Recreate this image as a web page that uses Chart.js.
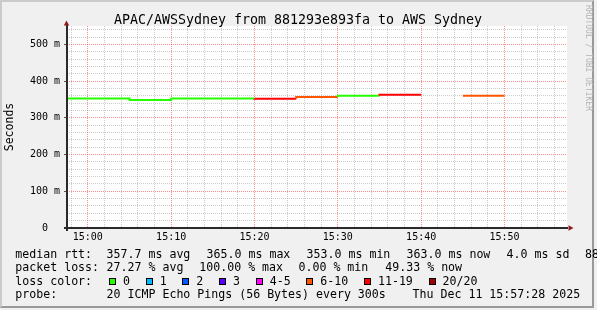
<!DOCTYPE html>
<html><head><meta charset="utf-8">
<script src="https://cdn.jsdelivr.net/npm/chart.js@4.4.1/dist/chart.umd.min.js"></script>
<style>
html,body{margin:0;padding:0;background:#f0f0f0;width:597px;height:310px;overflow:hidden;}
#frame{position:absolute;left:0;top:0;width:594px;height:308px;box-sizing:border-box;border-top:2px solid #cbcbcb;border-left:2px solid #cbcbcb;border-right:2px solid #999;border-bottom:2px solid #999;background:#f0f0f0;}
canvas{position:absolute;left:0;top:0;}
.mono{font-family:"DejaVu Sans Mono",monospace;color:#000;}
#title{position:absolute;left:0;width:596px;top:11.5px;line-height:16px;font-size:13.3px;text-align:center;white-space:pre;}
#credit{position:absolute;left:583.5px;top:5px;writing-mode:vertical-rl;font-size:8px;line-height:9px;color:#b4b4b4;white-space:pre;}
#legend{position:absolute;left:0;top:247.5px;width:597px;font-size:11.6px;line-height:13.6px;}
.row{position:relative;height:13.6px;white-space:pre;}
.row .f{position:absolute;top:0;}
.box{display:inline-block;width:5px;height:5px;border:1px solid #000;margin-right:7px;}
.item{display:inline-block;margin-right:15.7px;}
</style></head>
<body>
<div id="frame"></div>
<canvas id="c" width="597" height="310"></canvas>
<div id="title" class="mono"></div>
<div id="credit" class="mono"></div>
<div id="legend" class="mono"></div>
<script>
// ---- data ----
const titleText = 'APAC/AWSSydney from 881293e893fa to AWS Sydney';
const creditText = 'RRDTOOL / TOBI OETIKER';
const yAxisTitle = 'Seconds';
// 5-minute intervals (interval start times)
const times = ['14:55','15:00','15:05','15:10','15:15','15:20','15:25','15:30','15:35','15:40','15:45'];
// median round trip time, ms (as drawn)
const medianRtt = [352.5, 352.5, 348.5, 352.5, 352.5, 352, 356.5, 360, 363, null, 360];
// packet loss, %
const lossPct = [0, 0, 0, 0, 0, 60, 35.67, 0, 55, 100, 49.33];
const pingsPerProbe = 20;
const stepMinutes = 5;
const xTickLabels = ['15:00','15:10','15:20','15:30','15:40','15:50'];
const yTickValues = [0, 100, 200, 300, 400, 500];
const yTickLabels = ['0', '100 m', '200 m', '300 m', '400 m', '500 m'];
const lossLabels = ['0','1','2','3','4-5','6-10','11-19','20/20'];
const lossColors = ['#26ff00','#00b8ff','#0059ff','#5e00ff','#ff00ff','#ff5500','#ff0000','#a00000'];
const rttStats = ['357.7 ms avg','365.0 ms max','353.0 ms min','363.0 ms now','4.0 ms sd','88.5 am/s'];
const lossStats = ['27.27 % avg','100.00 % max','0.00 % min','49.33 % now'];
const probeText = '20 ICMP Echo Pings (56 Bytes) every 300s';
const stampText = 'Thu Dec 11 15:57:28 2025';

// ---- helpers ----
const toMin = s => { const [h,m] = s.split(':').map(Number); return (h - 15) * 60 + m; };
function lossIndex(p){
  const lost = Math.round(p * pingsPerProbe / 100);
  if (lost <= 3) return lost;
  if (lost <= 5) return 4;
  if (lost <= 10) return 5;
  if (lost < pingsPerProbe) return 6;
  return 7;
}
const pts = [];
times.forEach((t, i) => {
  const x0 = toMin(t);
  if (medianRtt[i] == null) { pts.push({x: x0, y: null, k: i}); }
  else { pts.push({x: x0, y: medianRtt[i], k: i}); pts.push({x: x0 + stepMinutes, y: medianRtt[i], k: i}); }
});
const xMajor = xTickLabels.map(toMin);

// ---- text (HTML) ----
document.getElementById('title').textContent = titleText;
document.getElementById('credit').textContent = creditText;
const legend = document.getElementById('legend');
function row(frags){
  const r = document.createElement('div'); r.className = 'row';
  frags.forEach(([x, t]) => { const s = document.createElement('span'); s.className = 'f'; s.style.left = x + 'px'; s.textContent = t; r.appendChild(s); });
  legend.appendChild(r); return r;
}
const rttX = [106.6, 206.6, 306.6, 406.6, 506.6, 585];
row([[15.3, 'median rtt:']].concat(rttStats.map((t, i) => [rttX[i], t])));
const lossX = [106.6, 199.3, 298.5, 385.3];
row([[15.3, 'packet loss:']].concat(lossStats.map((t, i) => [lossX[i], t])));
const r3 = row([[15.3, 'loss color:']]);
const items = document.createElement('span'); items.className = 'f'; items.style.left = '109px';
lossLabels.forEach((lab, i) => {
  const it = document.createElement('span'); it.className = 'item';
  const b = document.createElement('span'); b.className = 'box'; b.style.background = lossColors[i];
  it.appendChild(b); it.appendChild(document.createTextNode(lab)); items.appendChild(it);
});
r3.appendChild(items);
row([[15.3, 'probe:'], [106.6, probeText], [412.6, stampText]]);

// ---- chart ----
const minorGrid = 'rgba(140,140,140,0.45)';
const majorGrid = 'rgba(255,30,30,0.5)';
const arrowColor = '#8f1a1a';
const axisPlugin = {
  id: 'rrdAxes',
  beforeDraw(chart){
    const {ctx, chartArea: a} = chart;
    ctx.save(); ctx.fillStyle = '#ffffff';
    ctx.fillRect(a.left, a.top, a.right - a.left, a.bottom - a.top);
    ctx.restore();
  },
  afterDraw(chart){
    const {ctx, chartArea: a} = chart;
    ctx.save();
    ctx.strokeStyle = '#2a2a2a'; ctx.lineWidth = 2;
    ctx.beginPath(); ctx.moveTo(a.left - 3, a.bottom); ctx.lineTo(a.right + 1, a.bottom); ctx.stroke();
    ctx.beginPath(); ctx.moveTo(a.left, a.bottom + 3); ctx.lineTo(a.left, a.top - 1); ctx.stroke();
    ctx.fillStyle = arrowColor;
    ctx.beginPath(); ctx.moveTo(a.right + 6.5, a.bottom); ctx.lineTo(a.right + 1.5, a.bottom - 2.7); ctx.lineTo(a.right + 1.5, a.bottom + 2.7); ctx.closePath(); ctx.fill();
    ctx.beginPath(); ctx.moveTo(a.left - 0.5, a.top - 5.5); ctx.lineTo(a.left - 3.2, a.top - 0.5); ctx.lineTo(a.left + 2.2, a.top - 0.5); ctx.closePath(); ctx.fill();
    ctx.restore();
  }
};

new Chart(document.getElementById('c'), {
  type: 'line',
  data: { datasets: [{
      data: pts, borderColor: lossColors[0], borderWidth: 2, pointRadius: 0, tension: 0, spanGaps: false, borderCapStyle: 'butt',
      segment: { borderColor: c => lossColors[lossIndex(lossPct[pts[c.p1DataIndex].k])] }
  }] },
  options: {
    responsive: false, animation: false, devicePixelRatio: 1,
    layout: { padding: { left: 0, right: 30, top: 26, bottom: 0 } },
    plugins: { legend: { display: false }, title: { display: false }, tooltip: { enabled: false } },
    scales: {
      x: {
        type: 'linear', min: -2.5, max: 57.5,
        afterBuildTicks: s => { const t = []; for (let v = -2; v <= 56; v += 2) t.push({value: v}); s.ticks = t; },
        afterFit: s => { s.height = 82; },
        grid: { color: c => xMajor.includes(c.tick.value) ? majorGrid : minorGrid, lineWidth: 1, drawTicks: false },
        border: { display: false, dash: [1, 1] },
        ticks: { autoSkip: false, maxRotation: 0, minRotation: 0, padding: 3, color: '#000',
          font: { family: 'DejaVu Sans Mono', size: 10 },
          callback: v => { const i = xMajor.indexOf(v); return i >= 0 ? xTickLabels[i] : ''; } }
      },
      y: {
        type: 'linear', min: 0, max: 550,
        afterBuildTicks: s => { const t = []; for (let v = 0; v <= 540; v += 20) t.push({value: v}); s.ticks = t; },
        afterFit: s => { s.width = 67; },
        grid: { color: c => c.tick.value % 100 === 0 ? majorGrid : minorGrid, lineWidth: 1,
          tickLength: 3, tickColor: c => c.tick.value % 100 === 0 ? '#555' : 'rgba(0,0,0,0)' },
        border: { display: false, dash: [1, 1] },
        ticks: { padding: 4, color: '#000', autoSkip: false, font: { family: 'DejaVu Sans Mono', size: 10 },
          callback: v => { const i = yTickValues.indexOf(v); if (i < 0) return ''; return yTickLabels[i] === '0' ? '0  ' : yTickLabels[i]; } },
        title: { display: true, text: yAxisTitle, color: '#000', font: { family: 'DejaVu Sans Mono', size: 11.5 }, padding: { top: 3, bottom: 0 } }
      }
    }
  },
  plugins: [axisPlugin]
});
</script>
</body></html>
